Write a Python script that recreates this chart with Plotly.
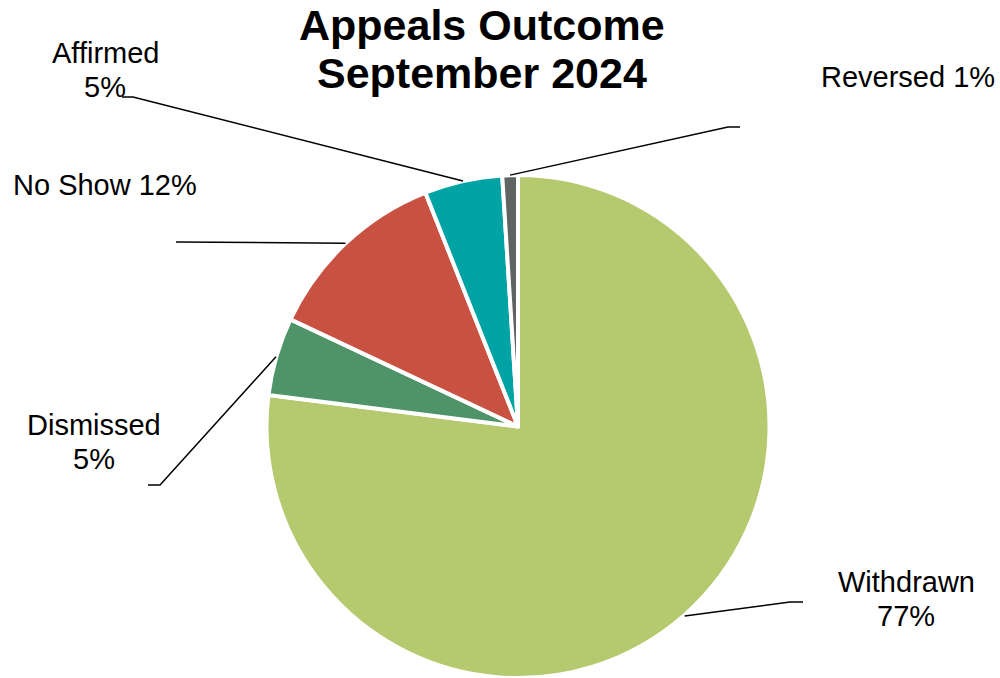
import math
import plotly.graph_objects as go

labels = ["Withdrawn", "Dismissed", "No Show", "Affirmed", "Reversed"]
values = [77, 5, 12, 5, 1]
colors = ["#B5C96E", "#4E9468", "#C85141", "#00A3A3", "#5F6462"]
label_lines = {
    "Withdrawn": ["Withdrawn", "77%"],
    "Dismissed": ["Dismissed", "5%"],
    "No Show": ["No Show 12%"],
    "Affirmed": ["Affirmed", "5%"],
    "Reversed": ["Reversed 1%"],
}
title_lines = ["Appeals Outcome", "September 2024"]

W, H = 1000, 678
# pie placement (pixels)
CX, CY, R = 518, 427, 252

# label layout (pixels): text centre x, first line centre y, elbow point, line end point
label_pos = {
    "Withdrawn": (906, 582, (790, 602), (803, 602)),
    "Dismissed": (94, 425, (160, 485), (148, 485)),
    "No Show": (105, 185, (176, 242), (176, 242)),
    "Affirmed": (105, 53, (133, 97), (122, 97)),
    "Reversed": (908, 77, (728, 127), (740, 127)),
}
LINE_GAP = 34
FONT = "Liberation Sans, Arial"

def px(x, y):
    return x / W, 1 - y / H

fig = go.Figure()
fig.add_trace(go.Pie(
    labels=labels, values=values, sort=False, direction="clockwise", rotation=0,
    marker=dict(colors=colors, line=dict(color="white", width=4)),
    textinfo="none", hoverinfo="label+percent", showlegend=False,
    domain=dict(x=[(CX - R) / W, (CX + R) / W], y=[max(0, (H - CY - R) / H), (H - CY + R) / H]),
))

total = sum(values)
cum = 0
shapes = []
annotations = []
for lab, v in zip(labels, values):
    mid = (cum + v / 2) / total * 2 * math.pi
    cum += v
    sx = CX + R * math.sin(mid)
    sy = CY - R * math.cos(mid)
    tx, ty, (ex, ey), (fx, fy) = label_pos[lab]
    x0, y0 = px(sx, sy)
    x1, y1 = px(ex, ey)
    x2, y2 = px(fx, fy)
    shapes.append(dict(type="path", xref="paper", yref="paper",
                       path=f"M {x0},{y0} L {x1},{y1} L {x2},{y2}",
                       line=dict(color="black", width=1.5)))
    for i, line in enumerate(label_lines[lab]):
        ax, ay = px(tx, ty + i * LINE_GAP)
        annotations.append(dict(x=ax, y=ay, xref="paper", yref="paper",
                                text=line, showarrow=False,
                                xanchor="center", yanchor="middle",
                                font=dict(size=29, color="black", family=FONT)))

for i, line in enumerate(title_lines):
    ax, ay = px(482, 25 + i * 48)
    annotations.append(dict(x=ax, y=ay, xref="paper", yref="paper",
                            text=f"<b>{line}</b>", showarrow=False,
                            xanchor="center", yanchor="middle",
                            font=dict(size=43, color="black", family=FONT)))

fig.update_layout(
    width=W, height=H,
    margin=dict(l=0, r=0, t=0, b=0),
    paper_bgcolor="white", plot_bgcolor="white",
    shapes=shapes, annotations=annotations,
)

fig.write_html("out.html")
